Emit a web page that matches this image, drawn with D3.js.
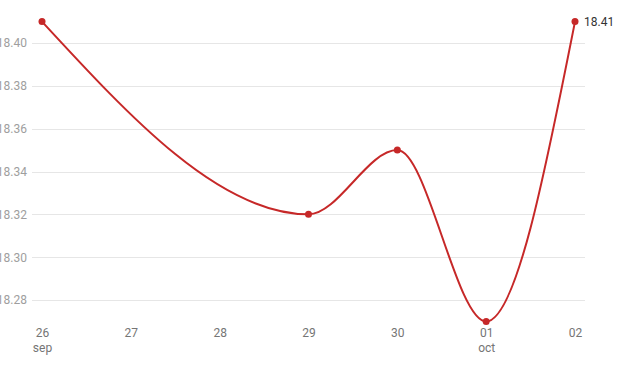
<!DOCTYPE html>
<html><head><meta charset="utf-8">
<script src="https://cdn.jsdelivr.net/npm/d3@7"></script>
<style>body{margin:0;background:#fff;}svg{display:block;font-family:Roboto,sans-serif;}</style>
</head><body>
<svg id="c" width="621" height="371"></svg>
<script>
const dates = ["2023-09-26","2023-09-29","2023-09-30","2023-10-01","2023-10-02"];
const values = [18.41, 18.32, 18.35, 18.27, 18.41];
const tickDates = ["2023-09-26","2023-09-27","2023-09-28","2023-09-29","2023-09-30","2023-10-01","2023-10-02"];
const yTicks = [18.28, 18.30, 18.32, 18.34, 18.36, 18.38, 18.40];
const monthNames = ["jan","feb","mar","apr","may","jun","jul","aug","sep","oct","nov","dec"];

const parse = d3.timeParse("%Y-%m-%d");
const data = dates.map((d,i)=>({date:parse(d), value:values[i]}));
const svg = d3.select("#c");

const x = d3.scaleTime().domain([parse(tickDates[0]), parse(tickDates[tickDates.length-1])]).range([42, 575]);
const y = d3.scaleLinear().domain([18.28, 18.40]).range([300, 43]);

// grid
const grid = svg.append("g");
grid.selectAll("line").data(yTicks).join("line")
  .attr("x1", 32).attr("x2", 585)
  .attr("y1", d=>Math.round(y(d))+0.5).attr("y2", d=>Math.round(y(d))+0.5)
  .attr("stroke", "#e6e6e6").attr("stroke-width", 1);

// y axis labels
const yAxis = d3.axisLeft(y).tickValues(yTicks).tickFormat(d3.format(".2f")).tickSize(0).tickPadding(0);
const ya = svg.append("g").attr("transform","translate(27,0)").call(yAxis);
ya.select(".domain").remove();
ya.selectAll("text").attr("fill","#9e9e9e").attr("font-size",12).attr("font-family","Roboto");

// x axis labels
const xAxis = d3.axisBottom(x).tickValues(tickDates.map(parse)).tickFormat(d3.timeFormat("%d")).tickSize(0).tickPadding(0);
const xa = svg.append("g").attr("transform","translate(0,328)").call(xAxis);
xa.select(".domain").remove();
xa.selectAll("text").attr("fill","#757575").attr("font-size",12).attr("font-family","Roboto");
xa.selectAll(".tick").each(function(d,i){
  if (i===0 || d.getDate()===1) {
    d3.select(this).append("text").attr("y",15).attr("dy","0.71em")
      .attr("fill","#757575").attr("font-size",12).attr("font-family","Roboto")
      .attr("text-anchor","middle").text(monthNames[d.getMonth()]);
  }
});

// line
const line = d3.line().x(d=>x(d.date)).y(d=>y(d.value)).curve(d3.curveMonotoneX);
svg.append("path").datum(data).attr("d", line)
  .attr("fill","none").attr("stroke","#c62828").attr("stroke-width",2);

svg.append("g").selectAll("circle").data(data).join("circle")
  .attr("cx", d=>x(d.date)).attr("cy", d=>y(d.value)).attr("r", 3.5)
  .attr("fill","#c62828");

const last = data[data.length-1];
svg.append("text").attr("x", x(last.date)+9).attr("y", y(last.value)).attr("dy","0.35em")
  .attr("fill","#333").attr("font-size",12).attr("font-family","Roboto")
  .text(d3.format(".2f")(last.value));
</script>
</body></html>
